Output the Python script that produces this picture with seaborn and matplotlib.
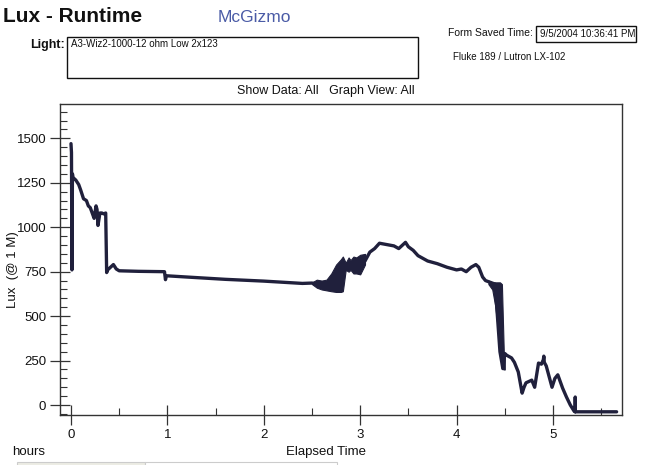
import matplotlib
matplotlib.use("Agg")
import matplotlib.pyplot as plt
import seaborn as sns
import pandas as pd
from matplotlib.patches import Rectangle
from matplotlib.ticker import MultipleLocator

# ---- data ----
hours = [0.0, 0.005, 0.01, 0.015, 0.02, 0.05, 0.08, 0.10, 0.13, 0.16, 0.18, 0.20,
         0.22, 0.24, 0.26, 0.27, 0.28, 0.30, 0.32, 0.34, 0.36, 0.37, 0.38, 0.40,
         0.44, 0.47, 0.50, 0.70, 0.97, 0.98, 0.99, 1.2, 1.6, 2.0, 2.4, 2.5,
         2.55, 2.6, 2.65, 2.7, 2.75, 2.8, 2.85, 2.9, 2.95, 3.0, 3.05, 3.1, 3.15,
         3.2, 3.25, 3.3, 3.35, 3.4, 3.47, 3.5, 3.55, 3.6, 3.7, 3.8, 3.9, 4.0,
         4.05, 4.1, 4.15, 4.2, 4.23, 4.27, 4.3, 4.35, 4.4, 4.45, 4.48, 4.5,
         4.52, 4.57, 4.6, 4.64, 4.68, 4.7, 4.72, 4.78, 4.81, 4.85, 4.88, 4.9,
         4.905, 4.91, 4.93, 4.97, 4.99, 5.02, 5.05, 5.1, 5.14, 5.18, 5.22,
         5.23, 5.231, 5.232, 5.66]
lux = [1470, 1420, 760, 1300, 1280, 1265, 1240, 1210, 1160, 1150, 1120, 1110,
       1080, 1050, 1120, 1100, 1010, 1080, 1080, 1075, 1080, 745, 760, 770,
       790, 765, 755, 752, 750, 705, 727, 720, 707, 697, 684, 686,
       680, 670, 660, 700, 720, 760, 790, 800, 780, 800, 810, 860, 880,
       910, 905, 900, 895, 880, 915, 890, 870, 840, 810, 795, 775, 760,
       765, 750, 775, 790, 775, 720, 700, 690, 680, 300, 205, 290,
       280, 265, 240, 186, 67, 100, 125, 140, 100, 236, 230, 255,
       275, 240, 220, 140, 100, 150, 170, 95, 45, 0, -35,
       -38, 45, -38, -38]

# noisy bands (vertical scatter of readings)
band1_hours = [2.5, 2.55, 2.6, 2.65, 2.7, 2.75, 2.8, 2.82, 2.85, 2.88, 2.9, 2.93, 2.96, 3.0, 3.05]
band1_low = [680, 660, 650, 645, 640, 636, 636, 640, 760, 750, 760, 740, 740, 735, 790]
band1_high = [690, 705, 700, 705, 740, 790, 820, 835, 800, 830, 815, 835, 830, 845, 850]
band2_hours = [4.33, 4.37, 4.4, 4.43, 4.45, 4.47, 4.49, 4.5]
band2_low = [680, 650, 560, 420, 300, 205, 200, 200]
band2_high = [700, 690, 690, 690, 690, 680, 290, 290]

x_ticks = [0, 1, 2, 3, 4, 5]
y_ticks = [0, 250, 500, 750, 1000, 1250, 1500]

df = pd.DataFrame({"hours": hours, "lux": lux})

sns.set_style("white")
plt.rcParams["font.family"] = ["Liberation Sans", "DejaVu Sans"]

fig = plt.figure(figsize=(6.49, 4.65), dpi=100)
ax = fig.add_axes([60 / 649, 1 - 415 / 465, 562 / 649, 311 / 465])

line_color = "#20203c"
ax.fill_between(band1_hours, band1_low, band1_high, color=line_color, linewidth=0.8)
ax.fill_between(band2_hours, band2_low, band2_high, color=line_color, linewidth=0.8)
sns.lineplot(data=df, x="hours", y="lux", sort=False, estimator=None,
             color=line_color, linewidth=2.4, ax=ax)

ax.set_xlim(-0.114, 5.716)
ax.set_ylim(-56, 1693)
ax.set_xticks(x_ticks)
ax.set_yticks(y_ticks)
ax.xaxis.set_minor_locator(MultipleLocator(0.5))
ax.yaxis.set_minor_locator(MultipleLocator(50))
ax.tick_params(axis="both", which="both", bottom=True, left=True, top=False, right=False)
ax.tick_params(axis="both", which="major", direction="inout", length=14,
               width=0.9, color="#333333", labelsize=9.5, labelcolor="#111111")
ax.tick_params(axis="x", which="major", pad=3)
ax.tick_params(axis="y", which="major", pad=3)
ax.tick_params(axis="both", which="minor", direction="in", length=5,
               width=0.8, color="#333333")
for s in ax.spines.values():
    s.set_color("#333333")
    s.set_linewidth(1.0)
ax.set_xlabel("")
ax.set_ylabel("")
fig.text(13 / 649, 1 - 270 / 465, "Lux  (@ 1 M)", fontsize=9.5, color="#111111",
         rotation=90, va="center", ha="center")

# ---- header texts ----
fig.text(3 / 649, 1 - 16 / 465, "Lux - Runtime", fontsize=15, fontweight="bold",
         va="center", ha="left", color="#111111")
fig.text(218 / 649, 1 - 17 / 465, "McGizmo", fontsize=12.5, color="#4a5ba6",
         va="center", ha="left")
fig.text(65 / 649, 1 - 45 / 465, "Light:", fontsize=9, fontweight="bold",
         va="center", ha="right", color="#111111")
fig.add_artist(Rectangle((67 / 649, 1 - 78 / 465), 351 / 649, 41 / 465,
                         transform=fig.transFigure, fill=False,
                         edgecolor="#111111", linewidth=1.0))
fig.text(71 / 649, 1 - 44 / 465, "A3-Wiz2-1000-12 ohm Low 2x123", fontsize=7,
         va="center", ha="left", color="#111111")
fig.text(533 / 649, 1 - 33 / 465, "Form Saved Time:", fontsize=7.5,
         va="center", ha="right", color="#111111")
fig.add_artist(Rectangle((536 / 649, 1 - 42 / 465), 100 / 649, 16 / 465,
                         transform=fig.transFigure, fill=False,
                         edgecolor="#111111", linewidth=1.0))
fig.text(540 / 649, 1 - 34 / 465, "9/5/2004 10:36:41 PM", fontsize=7,
         va="center", ha="left", color="#111111")
fig.text(453 / 649, 1 - 57 / 465, "Fluke 189 / Lutron LX-102", fontsize=7,
         va="center", ha="left", color="#111111")
fig.text(326 / 649, 1 - 91 / 465, "Show Data: All   Graph View: All", fontsize=9,
         va="center", ha="center", color="#111111")

# ---- footer texts ----
fig.text(12 / 649, 1 - 452 / 465, "hours", fontsize=9.5, va="center", ha="left",
         color="#111111")
fig.text(326 / 649, 1 - 452 / 465, "Elapsed Time", fontsize=9.5, va="center",
         ha="center", color="#111111")
fig.add_artist(Rectangle((17 / 649, 1 - 470 / 465), 128 / 649, 8 / 465,
                         transform=fig.transFigure, facecolor="#ecece4",
                         edgecolor="#cccccc", linewidth=0.8))
fig.add_artist(Rectangle((145 / 649, 1 - 470 / 465), 192 / 649, 8 / 465,
                         transform=fig.transFigure, facecolor="white",
                         edgecolor="#cccccc", linewidth=0.8))

fig.savefig("out.png", dpi=100)
